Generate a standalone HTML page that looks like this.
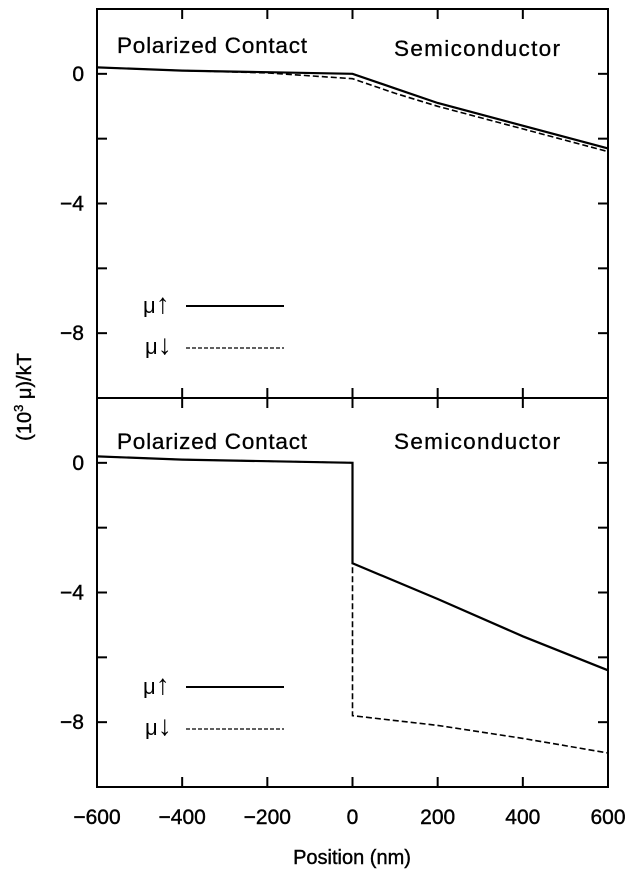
<!DOCTYPE html>
<html><head><meta charset="utf-8"><style>
body{margin:0;background:#fff}
svg{display:block;font-family:"Liberation Sans",Arial,sans-serif}
</style></head><body>
<svg id="c" width="636" height="870" viewBox="0 0 636 870"></svg>
<script>
const xTicks=[-600,-400,-200,0,200,400,600];
const yTicks=[0,-2,-4,-6,-8];
const yLabels=[0,-4,-8];
const topX=[-600,-400,-200,0,100,200,400,600];
const topUp=[0.2,0.1,0.05,0,-0.45,-0.9,-1.6,-2.3];
const topDown=[0.2,0.1,0.03,-0.15,-0.6,-1.0,-1.7,-2.4];
const botXUp=[-600,-400,-200,0,0,200,400,600];
const botUp=[0.2,0.1,0.05,0,-3.1,-4.2,-5.35,-6.4];
const botXDown=[-600,-400,-200,0,0,200,400,600];
const botDown=[0.2,0.1,0.05,0,-7.8,-8.1,-8.5,-8.95];
const NS="http://www.w3.org/2000/svg";
const svg=document.getElementById('c');
const L=97,R=608;
const sx=v=>L+(v+600)/1200*(R-L);
const panels=[{top:9,bot:398,name:'top'},{top:398,bot:787,name:'bottom'}];
function mk(t,a,p){const e=document.createElementNS(NS,t);for(const k in a)e.setAttribute(k,a[k]);(p||svg).appendChild(e);return e;}
panels.forEach((P,i)=>{
  const sy=v=>P.bot-(v+10)/12*(P.bot-P.top);
  P.sy=sy;
  const g=mk('g',{});
  
  
  const fr=mk('rect',{x:L,y:P.top,width:R-L,height:P.bot-P.top,fill:'none',stroke:'#000','stroke-width':2},g);
  
  
  xTicks.forEach(t=>{
    mk('line',{x1:sx(t),x2:sx(t),y1:P.bot,y2:P.bot-10,stroke:'#000','stroke-width':2},g);
    mk('line',{x1:sx(t),x2:sx(t),y1:P.top,y2:P.top+10,stroke:'#000','stroke-width':2},g);
  });
  yTicks.forEach(t=>{
    mk('line',{x1:L,x2:L+10,y1:sy(t),y2:sy(t),stroke:'#000','stroke-width':2},g);
    mk('line',{x1:R,x2:R-10,y1:sy(t),y2:sy(t),stroke:'#000','stroke-width':2},g);
  });
  yLabels.forEach(t=>{
    const tx=mk('text',{x:L-13,y:sy(t)+7,'text-anchor':'end','font-size':21,'stroke':'#000','stroke-width':0.4},g);
    tx.textContent=t===0?'0':'\u2212'+Math.abs(t);
    
    
  });
  const a=mk('text',{x:117,y:P.top+(i?51:44),'font-size':22.5,'stroke':'#000','stroke-width':0.3,textLength:190},g);a.textContent='Polarized Contact';
  
  const b=mk('text',{x:394,y:P.top+(i?51:47),'font-size':22.5,'stroke':'#000','stroke-width':0.3,textLength:166},g);b.textContent='Semiconductor';
  
  const ly=P.top+(i?289:297);
  const t1=mk('text',{x:143,y:ly+7,'font-size':22},g);t1.innerHTML='\u03bc<tspan font-size="28">\u2191</tspan>';
  
  const l1=mk('line',{x1:186,x2:284,y1:ly,y2:ly,stroke:'#000','stroke-width':2},g);
  
  const t2=mk('text',{x:145,y:ly+48,'font-size':22},g);t2.innerHTML='\u03bc<tspan font-size="28">\u2193</tspan>';
  
  const l2=mk('line',{x1:186,x2:284,y1:ly+42,y2:ly+42,stroke:'#000','stroke-width':1.3,'stroke-dasharray':'4,2'},g);
  
});
function line(xs,ys,P,dash,name){
  const d=xs.map((x,i)=>(i?'L':'M')+sx(x).toFixed(1)+','+P.sy(ys[i]).toFixed(1)).join('');
  const p=mk('path',{d:d,fill:'none',stroke:'#000','stroke-width':dash?1.6:2.2});
  if(dash)p.setAttribute('stroke-dasharray','6,3');
  
  
}
line(topX,topDown,panels[0],true,'top-mu-down-line');
line(topX,topUp,panels[0],false,'top-mu-up-line');
line(botXDown,botDown,panels[1],true,'bottom-mu-down-line');
line(botXUp,botUp,panels[1],false,'bottom-mu-up-line');
xTicks.forEach(t=>{
  const tx=mk('text',{x:sx(t),y:824,'text-anchor':'middle','font-size':21,'stroke':'#000','stroke-width':0.4});
  tx.textContent=t<0?'\u2212'+Math.abs(t):String(t);
  
  
});
const xt=mk('text',{x:352,y:864,'text-anchor':'middle','font-size':20,'stroke':'#000','stroke-width':0.4});
xt.textContent='Position (nm)';


const yt=mk('text',{x:0,y:0,'text-anchor':'middle','font-size':20,'stroke':'#000','stroke-width':0.4,transform:'translate(31,397) rotate(-90)'});
yt.innerHTML='(10<tspan font-size="13" dy="-8">3</tspan><tspan dy="8"> \u03bc)/kT</tspan>';


</script>
</body></html>
